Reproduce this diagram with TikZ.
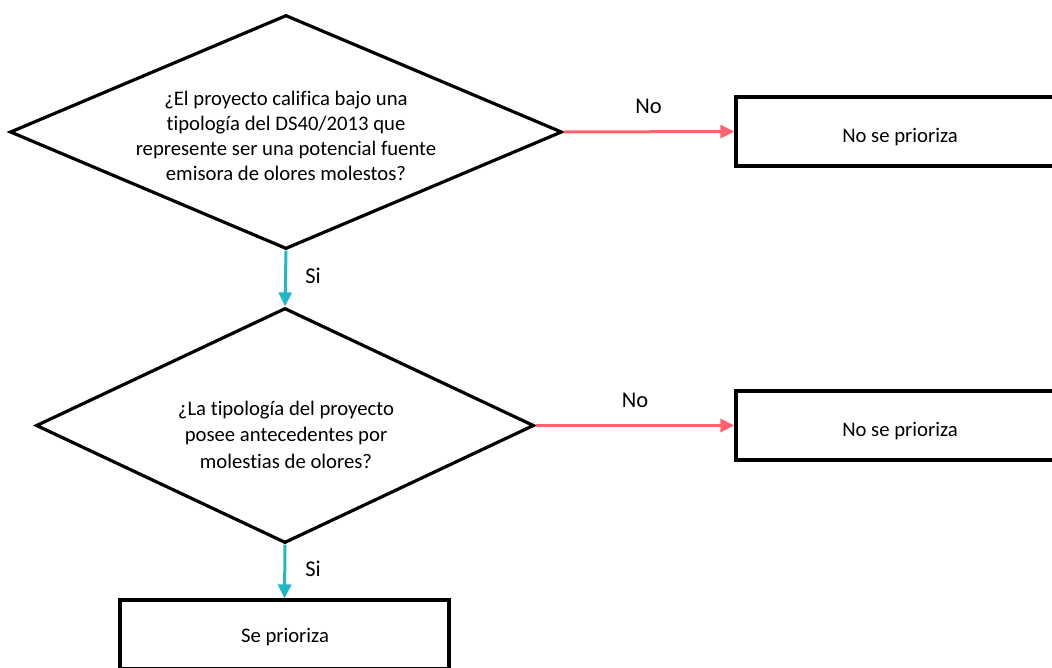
\documentclass[tikz,border=0pt]{standalone}
\usepackage{fontspec}
\setmainfont[Ligatures=NoCommon]{Carlito}
\usetikzlibrary{shapes.geometric,arrows.meta}
\definecolor{noRed}{RGB}{255,99,112}
\definecolor{siCyan}{RGB}{30,184,201}
\tikzset{
  decision/.style={diamond, draw=black, line width=3.2pt, line join=miter, inner sep=0pt, aspect=2.36},
  outbox/.style={rectangle, draw=black, line width=3.2pt, minimum width=328pt, minimum height=69pt, inner sep=0pt},
  txt/.style={font=\fontsize{20.7pt}{25pt}\selectfont, align=center, inner sep=0pt, anchor=base},
  noarrow/.style={draw=noRed, line width=3pt, -{Triangle[length=14pt,width=13pt]}},
  siarrow/.style={draw=siCyan, line width=3pt, -{Triangle[length=14pt,width=13pt]}},
  lbl/.style={font=\fontsize{22.5pt}{25pt}\selectfont, inner sep=0pt, anchor=base}
}
\begin{document}
\begin{tikzpicture}[x=1pt,y=-1pt]
\useasboundingbox (0,0) rectangle (1052,667);
% decisions
\node[decision, minimum width=552pt, minimum height=234pt] (d1) at (286,132) {};
\node[decision, minimum width=498pt, minimum height=235pt] (d2) at (285,425.5) {};
\node[txt] (t1) at (286,180) {¿El proyecto califica bajo una\\tipología del DS40/2013 que\\represente ser una potencial fuente\\emisora de olores molestos?};
\node[txt, font=\fontsize{20.7pt}{26.5pt}\selectfont] (t2) at (286,468) {¿La tipología del proyecto\\posee antecedentes por\\molestias de olores?};
% boxes
\node[outbox] (b1) at (900,131.5) {};
\node[txt] (bt1) at (900,142) {No se prioriza};
\node[outbox] (b2) at (900,425.5) {};
\node[txt] (bt2) at (900,436) {No se prioriza};
\node[outbox, minimum width=329pt] (b3) at (284.5,634.5) {};
\node[txt] (bt3) at (285,642) {Se prioriza};
% connectors
\draw[noarrow] (d1.east) -- (b1.west);
\draw[noarrow] (d2.east) -- (b2.west);
\draw[siarrow] (d1.south) -- (d2.north);
\draw[siarrow] (d2.south) -- (b3.north);
% labels
\node[lbl] (n1) at (648.5,113) {No};
\node[lbl] (n2) at (635,407) {No};
\node[lbl] (s1) at (313,283) {Si};
\node[lbl] (s2) at (313,576) {Si};
\end{tikzpicture}
\end{document}
